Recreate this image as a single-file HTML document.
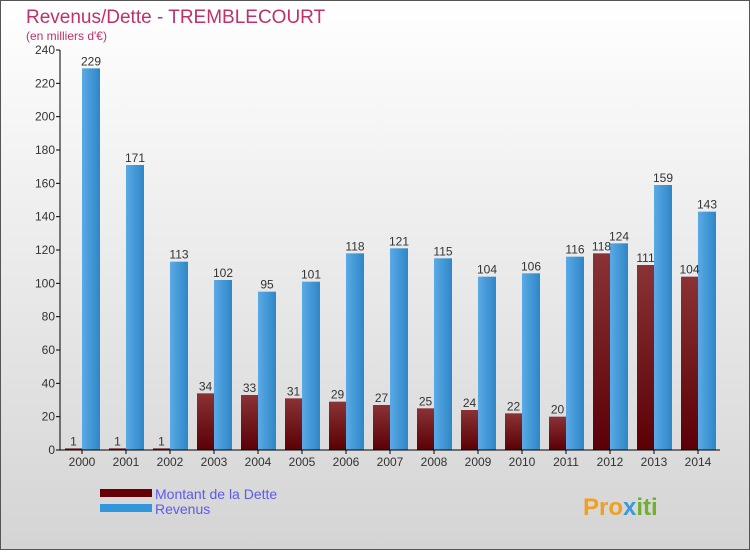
<!DOCTYPE html>
<html><head><meta charset="utf-8"><style>
body{margin:0}
#c{width:750px;height:550px;position:relative;font-family:"Liberation Sans",sans-serif}
</style></head><body>
<div id="c">
<svg id="s" width="750" height="550" xmlns="http://www.w3.org/2000/svg">
<defs>
<linearGradient id="bg" x1="0" y1="0" x2="0" y2="1"><stop offset="0" stop-color="#ffffff"/><stop offset="1" stop-color="#d4d4d4"/></linearGradient>
<linearGradient id="gd" x1="0" y1="0" x2="0" y2="1"><stop offset="0" stop-color="#8a3236"/><stop offset="1" stop-color="#5a0006"/></linearGradient>
<linearGradient id="gr" x1="0" y1="0" x2="1" y2="0"><stop offset="0" stop-color="#5aaae6"/><stop offset="1" stop-color="#2f86c6"/></linearGradient>
</defs>
<rect x="0.5" y="0.5" width="749" height="549" fill="url(#bg)" stroke="#555"/>
<text x="26" y="23" font-size="19" fill="#c0306a">Revenus/Dette - TREMBLECOURT</text>
<text x="26" y="40" font-size="12" fill="#c0306a">(en milliers d'€)</text>
<g id="plot"></g>
<rect x="100" y="489" width="52" height="8" fill="#650006"/>
<rect x="100" y="504" width="52" height="8" fill="#3396dc"/>
<text x="155" y="499" font-size="14" fill="#5a5af0">Montant de la Dette</text>
<text x="155" y="514" font-size="14" fill="#5a5af0">Revenus</text>
<text x="583" y="515" font-size="24" font-weight="bold" fill="#f0a020">Pro<tspan fill="#3a9ad8">x</tspan><tspan fill="#70b030">iti</tspan></text>
</svg>
</div>
<script>
const years=["2000","2001","2002","2003","2004","2005","2006","2007","2008","2009","2010","2011","2012","2013","2014"];
const dette=[1,1,1,34,33,31,29,27,25,24,22,20,118,111,104];
const revenus=[229,171,113,102,95,101,118,121,115,104,106,116,124,159,143];
const ticks=[0,20,40,60,80,100,120,140,160,180,200,220,240];
const NS="http://www.w3.org/2000/svg";
const g=document.getElementById("plot");
const y0=450,yTop=50,vmax=240,x0=60,step=44;
const Y=v=>y0-v*(y0-yTop)/vmax;
const X=i=>x0+i*step;
function mk(t,a){const e=document.createElementNS(NS,t);for(const k in a)e.setAttribute(k,a[k]);g.appendChild(e);return e;}
ticks.forEach(t=>{
 const l=mk("line",{x1:x0-4,x2:x0,y1:Y(t),y2:Y(t),stroke:"#000"});
 
 
 const tx=mk("text",{x:x0-5,y:Y(t)+4,"font-size":12,"text-anchor":"end",fill:"#333"});
 tx.textContent=t;
 
 
});
years.forEach((yr,i)=>{
 const b1=mk("rect",{x:X(i)+5,y:Y(dette[i]),width:17,height:y0-Y(dette[i]),fill:"url(#gd)"});
 
 
 const b2=mk("rect",{x:X(i)+22,y:Y(revenus[i]),width:18,height:y0-Y(revenus[i]),fill:"url(#gr)"});
 
 
 const t1=mk("text",{x:X(i)+13.5,y:Y(dette[i])-3,"font-size":12,"text-anchor":"middle",fill:"#333"});
 t1.textContent=dette[i];
 
 
 const t2=mk("text",{x:X(i)+31,y:Y(revenus[i])-3,"font-size":12,"text-anchor":"middle",fill:"#333"});
 t2.textContent=revenus[i];
 
 
 const tk=mk("line",{x1:X(i)+22,x2:X(i)+22,y1:y0,y2:y0+4,stroke:"#000"});
 
 
 const xl=mk("text",{x:X(i)+22,y:y0+16,"font-size":12,"text-anchor":"middle",fill:"#333"});
 xl.textContent=yr;
 
 
});
const ya=mk("line",{x1:x0,x2:x0,y1:yTop,y2:y0,stroke:"#000"});


const xa=mk("line",{x1:x0,x2:x0+15*step,y1:y0,y2:y0,stroke:"#000"});


</script>
</body></html>
